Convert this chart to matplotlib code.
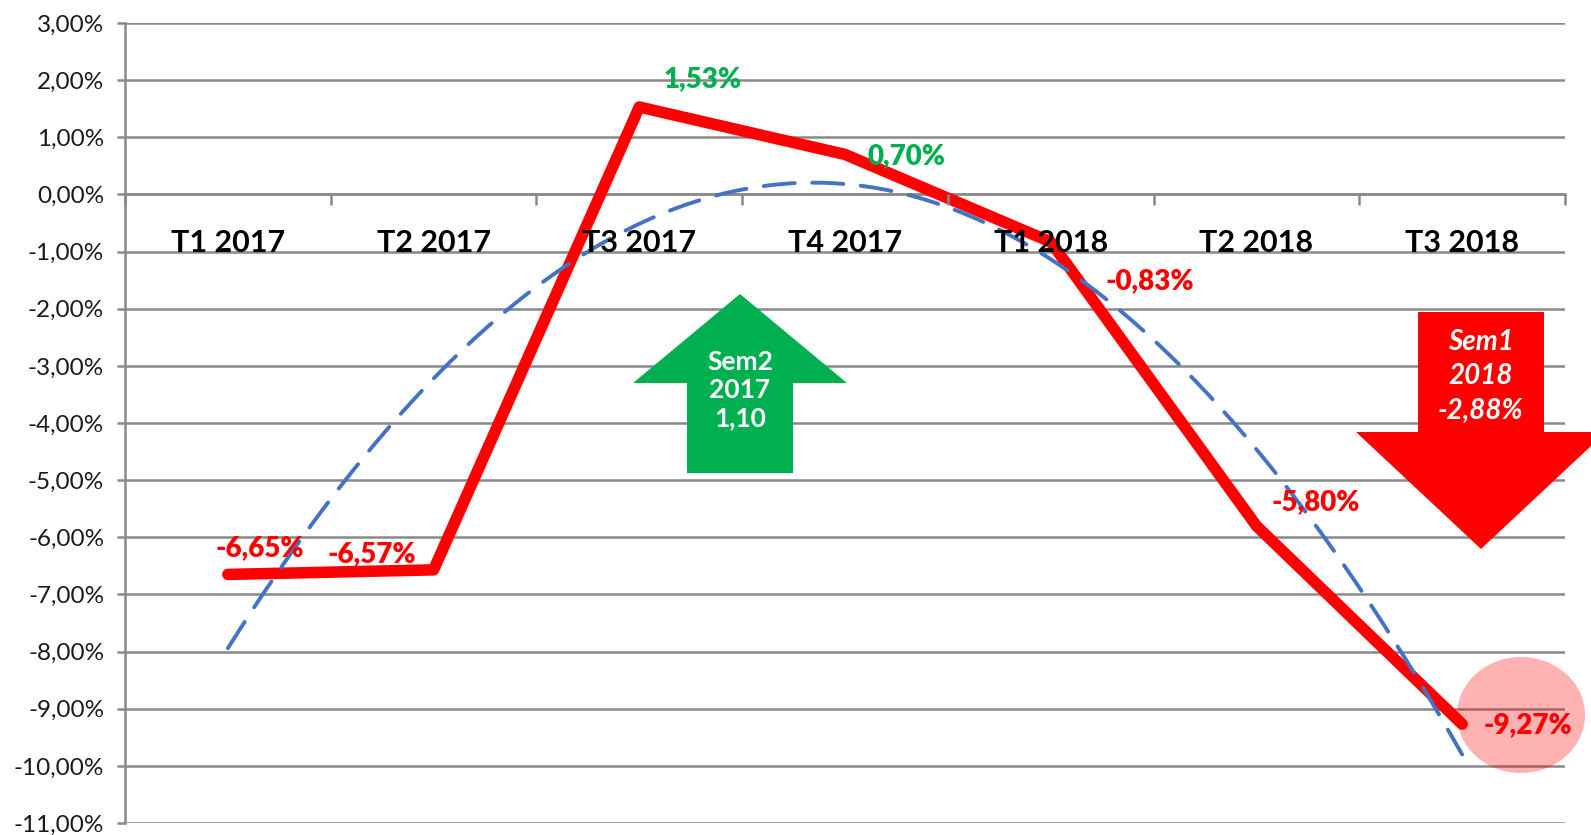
import matplotlib.pyplot as plt
import numpy as np
from matplotlib.patches import Polygon, Ellipse

plt.rcParams['font.family'] = ['Lato', 'DejaVu Sans']

# data
quarters = ['T1 2017', 'T2 2017', 'T3 2017', 'T4 2017', 'T1 2018', 'T2 2018', 'T3 2018']
values = [-6.65, -6.57, 1.53, 0.70, -0.83, -5.80, -9.27]
label_colors = ['#FF0000', '#FF0000', '#00B050', '#00B050', '#FF0000', '#FF0000', '#FF0000']
# label offsets in pixels (dx right, dy down)
label_offsets = [(32, -26), (-62, -16), (63, -28), (62, 2), (99, 39), (59, -24), (66, 1)]
yticks = list(range(-11, 4))

W, H = 1591, 835
red = '#FF0000'
green = '#00B050'
grid_col = '#898989'


def fx(px):
    return px / W


def fy(py):
    return 1 - py / H


fig = plt.figure(figsize=(W / 100, H / 100), dpi=100)
ax = fig.add_axes([fx(125), fy(823), fx(1565) - fx(125), fy(23) - fy(823)])

x = np.arange(1, len(quarters) + 1)

# red main line
ax.plot(x, values, color=red, lw=8.3, solid_capstyle='round', solid_joinstyle='round', zorder=3)

# polynomial (order 2) trendline
coef = np.polyfit(x, values, 2)
xs = np.linspace(1, 7, 200)
ax.plot(xs, np.polyval(coef, xs), color='#4472C4', lw=2.8, dashes=(8, 4.5),
        dash_capstyle='round', zorder=3.5)

ax.set_xlim(0.5, 7.5)
ax.set_ylim(-11, 3)
ax.set_yticks(yticks)
ax.set_yticklabels([f'{v:.2f}'.replace('.', ',').replace('-0,00', '0,00') + '%' for v in yticks])
ax.yaxis.grid(True, color=grid_col, lw=1.8)
ax.tick_params(axis='y', length=6, width=1.8, color=grid_col, pad=9,
               labelsize=17.5, labelcolor='#1a1a1a')

ax.set_xticks(np.arange(0.5, 8, 1), minor=True)
ax.tick_params(axis='x', which='major', length=0, pad=25, labelsize=22, labelcolor='black')
ax.tick_params(axis='x', which='minor', length=8, width=1.8, color=grid_col)
ax.set_xticks(x, quarters, fontsize=22, fontweight='bold')
ax.xaxis.set_zorder(5)

for s in ['top', 'right']:
    ax.spines[s].set_visible(False)
ax.spines['bottom'].set_position(('data', 0))
ax.spines['bottom'].set_color(grid_col)
ax.spines['bottom'].set_linewidth(1.8)
ax.spines['left'].set_color(grid_col)
ax.spines['left'].set_linewidth(1.8)

# pink highlight circle around last point
fig.patches.append(Ellipse((fx(1521), fy(715)), 128 / W, 116 / H, transform=fig.transFigure,
                           facecolor=red, alpha=0.3, edgecolor='none', zorder=4))

# data labels
for xi, v, c, (dx, dy) in zip(x, values, label_colors, label_offsets):
    ax.annotate(f'{v:.2f}'.replace('.', ',') + '%', xy=(xi, v),
                xytext=(dx * 0.72, -dy * 0.72), textcoords='offset points',
                ha='center', va='center', fontsize=20, fontweight=800, color=c, zorder=6)

# green up arrow
g_pts = [(740, 294), (847, 383), (793, 383), (793, 473), (687, 473), (687, 383), (633, 383)]
fig.patches.append(Polygon([(fx(a), fy(b)) for a, b in g_pts], closed=True,
                           transform=fig.transFigure, facecolor=green, edgecolor='none', zorder=4))
fig.text(fx(740), fy(390), 'Sem2\n2017\n1,10', ha='center', va='center', color='white',
         fontsize=19, fontweight='bold', linespacing=1.2, zorder=6)

# red down arrow
r_pts = [(1418, 312), (1544, 312), (1544, 432), (1606, 432), (1481, 549), (1356, 432), (1418, 432)]
fig.patches.append(Polygon([(fx(a), fy(b)) for a, b in r_pts], closed=True,
                           transform=fig.transFigure, facecolor=red, edgecolor='none', zorder=4))
fig.text(fx(1481), fy(376), 'Sem1\n2018\n-2,88%', ha='center', va='center', color='white',
         fontsize=20, fontweight='bold', style='italic', linespacing=1.4, zorder=6)

fig.canvas.draw()
for lab in ax.get_xticklabels():
    lab.set_fontweight('bold')
    lab.set_fontsize(22)

plt.savefig('out.png', dpi=100)
